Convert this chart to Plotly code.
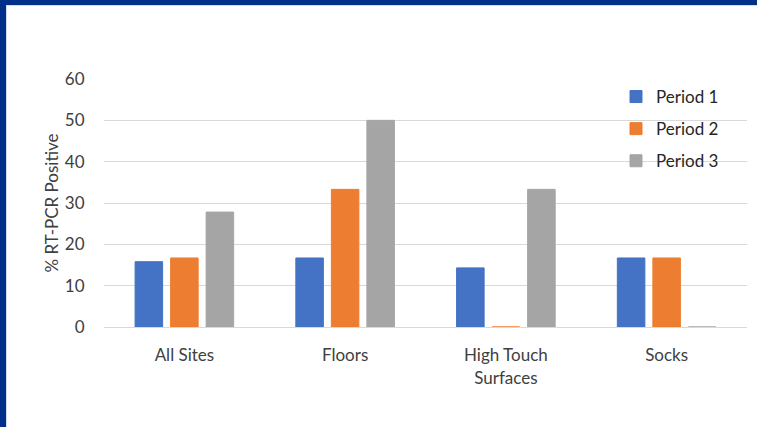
import plotly.graph_objects as go

categories = ["All Sites", "Floors", "High Touch<br>Surfaces", "Socks"]
period_1 = [15.8, 16.7, 14.3, 16.7]
period_2 = [16.7, 33.3, 0, 16.7]
period_3 = [27.8, 50.0, 33.3, 0]
series_names = ["Period 1", "Period 2", "Period 3"]
series_colors = ["#4472C4", "#ED7D31", "#A5A5A5"]
y_ticks = [0, 10, 20, 30, 40, 50, 60]

text_color = "#404040"
grid_color = "#D9D9D9"
frame_color = "#00308A"

fig = go.Figure()
for name, vals, color in zip(series_names, [period_1, period_2, period_3], series_colors):
    fig.add_trace(go.Bar(
        x=categories, y=vals, name=name, legendgroup=name,
        marker=dict(color=color, line=dict(color=color, width=1)),
    ))

# plot area in pixels: x 104..747, y 79..327 (figure 757x427)
W, H = 757, 427
L, R, T, B = 104, 747, 79, 327
pw, ph = R - L, B - T


def px(x):
    return (x - L) / pw


def py(y):
    return (B - y) / ph


shapes = [
    # dark frame along top and left edges
    dict(type="rect", xref="paper", yref="paper", layer="above",
         x0=px(0), x1=px(W), y0=py(0), y1=py(5),
         fillcolor=frame_color, line=dict(width=0)),
    dict(type="rect", xref="paper", yref="paper", layer="above",
         x0=px(0), x1=px(6), y0=py(0), y1=py(H),
         fillcolor=frame_color, line=dict(width=0)),
    # faint inner edge of the frame
    dict(type="rect", xref="paper", yref="paper", layer="above",
         x0=px(6), x1=px(W), y0=py(5), y1=py(6),
         fillcolor="#D5DBE8", line=dict(width=0)),
    dict(type="rect", xref="paper", yref="paper", layer="above",
         x0=px(6), x1=px(7), y0=py(5), y1=py(H),
         fillcolor="#D5DBE8", line=dict(width=0)),
]

font_family = "Lato, 'Open Sans', sans-serif"
fs = 17

fig.update_layout(
    width=W, height=H,
    margin=dict(l=L, r=W - R, t=T, b=H - B, pad=0),
    paper_bgcolor="white", plot_bgcolor="white",
    font=dict(family=font_family, size=fs, color=text_color),
    barmode="group", bargap=0.337, bargroupgap=0.225,
    showlegend=True,
    legend=dict(
        x=px(616), y=py(79), xanchor="left", yanchor="top",
        font=dict(size=fs, color="#262626"),
        tracegroupgap=7, itemwidth=30, bgcolor="rgba(0,0,0,0)",
    ),
    shapes=shapes,
    annotations=[dict(
        text="% RT-PCR Positive", textangle=-90, showarrow=False,
        xref="paper", yref="paper", x=px(63), y=py(203),
        xanchor="right", yanchor="middle",
        font=dict(size=fs, color=text_color),
    )],
    xaxis=dict(
        showgrid=False, showline=True, linecolor=grid_color, linewidth=1,
        ticks="outside", ticklen=13, tickcolor="rgba(0,0,0,0)",
        tickfont=dict(size=fs, color=text_color), fixedrange=True,
    ),
    yaxis=dict(
        range=[0, 60], tickvals=y_ticks, showgrid=True, gridcolor=grid_color,
        gridwidth=1, zeroline=False, showline=False,
        ticks="outside", ticklen=15, tickcolor="rgba(0,0,0,0)",
        tickfont=dict(size=fs, color=text_color),
    ),
)

fig.write_html("out.html")
